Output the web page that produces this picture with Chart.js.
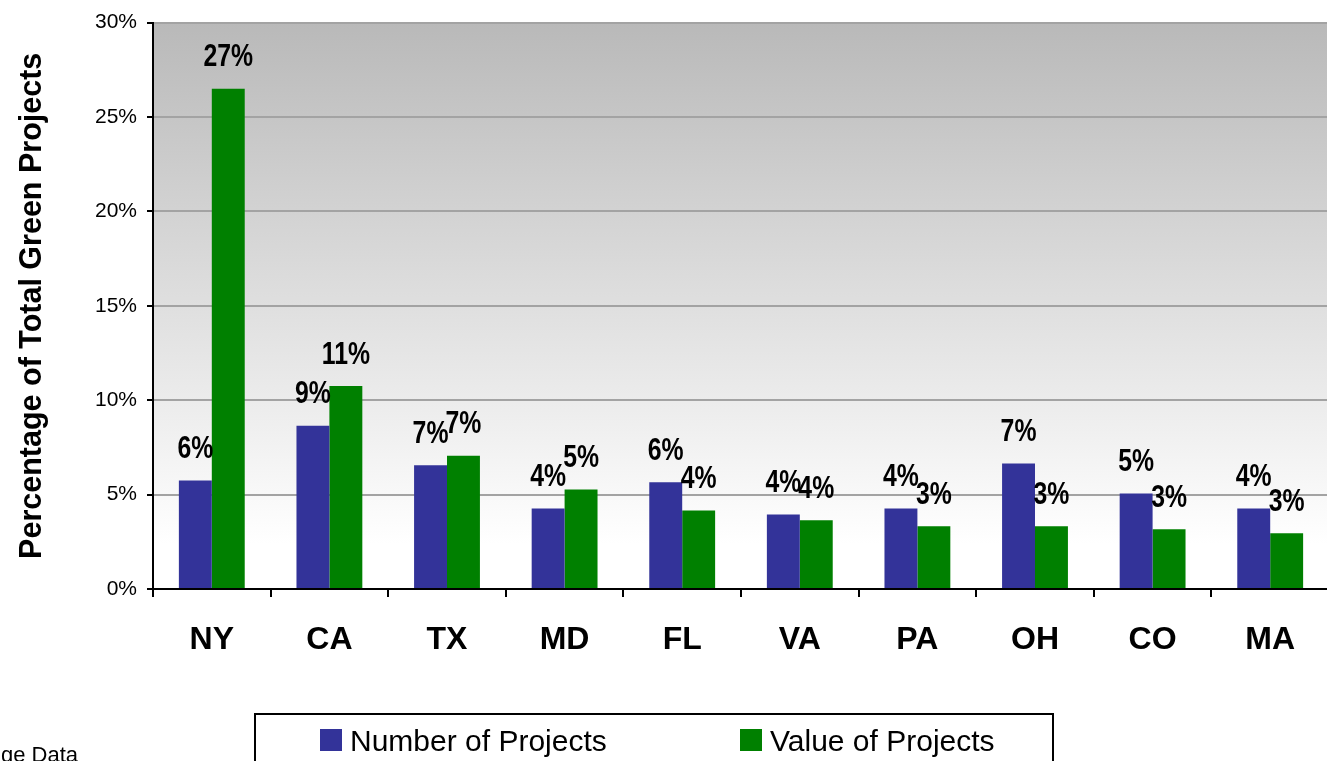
<!DOCTYPE html>
<html>
<head>
<meta charset="utf-8">
<script src="https://cdn.jsdelivr.net/npm/chart.js@4/dist/chart.umd.min.js"></script>
<style>
  html, body { margin: 0; padding: 0; background: #fff; overflow: hidden; width: 1327px; height: 761px; }
  #c { position: absolute; left: 0; top: 0; }
</style>
</head>
<body>
<canvas id="c" width="1340" height="761"></canvas>
<script>
const states = ['NY', 'CA', 'TX', 'MD', 'FL', 'VA', 'PA', 'OH', 'CO', 'MA'];
const numberOfProjects = [5.75, 8.65, 6.55, 4.27, 5.65, 3.95, 4.27, 6.65, 5.06, 4.27];
const valueOfProjects = [26.5, 10.75, 7.06, 5.27, 4.16, 3.64, 3.32, 3.32, 3.16, 2.95];
const yTicks = [0, 5, 10, 15, 20, 25, 30];
const seriesNames = ['Number of Projects', 'Value of Projects'];
const sourceNote = 'ge Data';

const bgPlugin = {
  id: 'bg',
  beforeDraw(chart) {
    const { ctx, chartArea: a } = chart;
    const g = ctx.createLinearGradient(0, a.top, 0, a.bottom);
    g.addColorStop(0, '#b9b9b9');
    g.addColorStop(0.92, '#ffffff');
    g.addColorStop(1, '#ffffff');
    ctx.save();
    ctx.fillStyle = g;
    ctx.fillRect(a.left, a.top, a.right - a.left, a.bottom - a.top);
    ctx.restore();
  }
};

const labelPlugin = {
  id: 'vlabels',
  afterDatasetsDraw(chart) {
    const { ctx } = chart;
    chart.data.datasets.forEach((ds, i) => {
      chart.getDatasetMeta(i).data.forEach((bar, j) => {
        ctx.save();
        ctx.translate(bar.x, bar.y - 31);
        ctx.scale(0.8, 1);
        ctx.font = "bold 31px 'Liberation Sans', Arial, sans-serif";
        ctx.fillStyle = '#000';
        ctx.textAlign = 'center';
        ctx.textBaseline = 'middle';
        ctx.fillText(Math.round(ds.data[j]) + '%', 0, 0);
        ctx.restore();
      });
    });
  }
};

const legendPlugin = {
  id: 'boxLegend',
  afterDraw(chart) {
    const { ctx } = chart;
    ctx.save();
    ctx.fillStyle = '#fff';
    ctx.fillRect(255, 714, 798, 60);
    ctx.strokeStyle = '#000';
    ctx.lineWidth = 2;
    ctx.strokeRect(255, 714, 798, 60);
    const xs = [320, 740];
    ctx.font = "30px 'Liberation Sans', Arial, sans-serif";
    ctx.textBaseline = 'alphabetic';
    ctx.textAlign = 'left';
    chart.data.datasets.forEach((ds, i) => {
      ctx.fillStyle = ds.backgroundColor;
      ctx.fillRect(xs[i], 729, 22, 22);
      ctx.fillStyle = '#000';
      ctx.fillText(ds.label, xs[i] + 30, 751);
    });
    ctx.font = "22px 'Liberation Sans', Arial, sans-serif";
    ctx.fillText(sourceNote, 1, 762);
    ctx.restore();
  }
};

new Chart(document.getElementById('c'), {
  type: 'bar',
  data: {
    labels: states,
    datasets: [
      { label: seriesNames[0], data: numberOfProjects, backgroundColor: '#333399' },
      { label: seriesNames[1], data: valueOfProjects, backgroundColor: '#008000' }
    ]
  },
  options: {
    responsive: false,
    devicePixelRatio: 1,
    animation: false,
    layout: { padding: { top: 20, right: 11, left: 0, bottom: 0 } },
    datasets: { bar: { barPercentage: 1, categoryPercentage: 0.56 } },
    plugins: { legend: { display: false }, tooltip: { enabled: false } },
    scales: {
      x: {
        grid: { drawOnChartArea: false, drawTicks: true, tickLength: 8, tickColor: '#000', lineWidth: 2, offset: true },
        border: { color: '#000', width: 2 },
        ticks: { color: '#000', padding: 24, maxRotation: 0, font: { family: "'Liberation Sans', Arial, sans-serif", size: 32, weight: 'bold' } },
        afterFit(s) { s.height = 172; }
      },
      y: {
        min: 0, max: 30,
        afterBuildTicks(s) { s.ticks = yTicks.map(v => ({ value: v })); },
        grid: { color: '#a3a3a3', lineWidth: 2, tickLength: 6, tickColor: '#000' },
        border: { color: '#000', width: 2 },
        ticks: { color: '#000', padding: 10, callback: v => v + '%', font: { family: "'Liberation Sans', Arial, sans-serif", size: 21 } },
        title: { display: true, text: 'Percentage of Total Green Projects', color: '#000', padding: { top: 14, bottom: 0 }, font: { family: "'Liberation Sans', Arial, sans-serif", size: 30.5, weight: 'bold' } },
        afterFit(s) { s.width = 153; }
      }
    }
  },
  plugins: [bgPlugin, labelPlugin, legendPlugin]
});
</script>
</body>
</html>
